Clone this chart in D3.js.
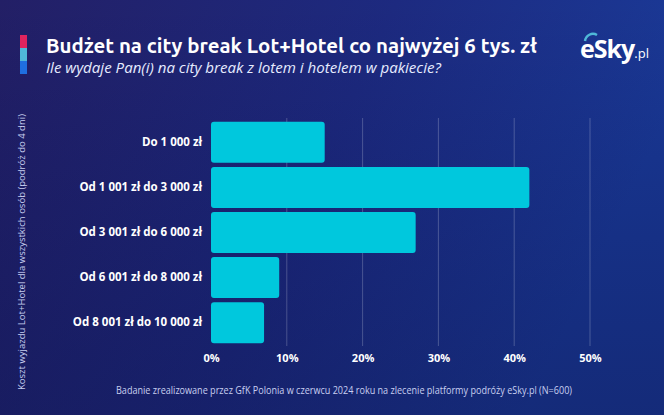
<!DOCTYPE html>
<html><head><meta charset="utf-8">
<script src="https://cdn.jsdelivr.net/npm/d3@7"></script>
<style>html,body{margin:0;padding:0;background:#1c2470;}svg{display:block;}</style>
</head><body>
<svg id="c" width="664" height="415"></svg>
<script>
const categories = ["Do 1 000 zł","Od 1 001 zł do 3 000 zł","Od 3 001 zł do 6 000 zł","Od 6 001 zł do 8 000 zł","Od 8 001 zł do 10 000 zł"];
const values = [15, 42, 27, 9, 7];
const tickValues = [0, 10, 20, 30, 40, 50];
const title = "Budżet na city break Lot+Hotel co najwyżej 6 tys. zł";
const subtitle = "Ile wydaje Pan(i) na city break z lotem i hotelem w pakiecie?";
const yTitle = "Koszt wyjazdu Lot+Hotel dla wszystkich osób (podróż do 4 dni)";
const footer = "Badanie zrealizowane przez GfK Polonia w czerwcu 2024 roku na zlecenie platformy podróży eSky.pl (N=600)";

const svg = d3.select("#c");
const W = 664, H = 415;
const defs = svg.append("defs");
const g1 = defs.append("linearGradient").attr("id","bg").attr("x1","0").attr("y1","0").attr("x2","1").attr("y2","0.3");
g1.append("stop").attr("offset","0").attr("stop-color","#231f66");
g1.append("stop").attr("offset","0.55").attr("stop-color","#1d2a80");
g1.append("stop").attr("offset","1").attr("stop-color","#1a3a98");
svg.append("rect").attr("width",W).attr("height",H).attr("fill","url(#bg)");
const g2 = defs.append("linearGradient").attr("id","bgv").attr("x1","0").attr("y1","0").attr("x2","0").attr("y2","1");
g2.append("stop").attr("offset","0").attr("stop-color","#000030").attr("stop-opacity",0);
g2.append("stop").attr("offset","1").attr("stop-color","#0a0e40").attr("stop-opacity",0.35);
svg.append("rect").attr("width",W).attr("height",H).attr("fill","url(#bgv)");

// accent bar
const acc = [["#e0245e",35],["#4fb8d8",48],["#1f6fe0",61]];
svg.selectAll("rect.acc").data(acc).enter().append("rect").attr("class","acc")
  .attr("x",20).attr("y",d=>d[1]).attr("width",7).attr("height",13).attr("fill",d=>d[0]);

svg.append("text").attr("x",46).attr("y",53).attr("fill","#ffffff")
  .attr("font-family","Ubuntu, 'Open Sans', sans-serif").attr("font-weight","bold").attr("font-size",19.5)
  .attr("textLength",491).attr("lengthAdjust","spacingAndGlyphs").text(title);
svg.append("text").attr("x",46).attr("y",73).attr("fill","#e6ecff")
  .attr("font-family","'Open Sans', sans-serif").attr("font-style","italic").attr("font-size",14)
  .attr("textLength",395).attr("lengthAdjust","spacingAndGlyphs").text(subtitle);

// logo
const logo = svg.append("text").attr("x",580).attr("y",58).attr("fill","#ffffff").attr("font-family","'Open Sans', sans-serif").attr("font-weight","bold");
logo.append("tspan").attr("font-size",25).attr("letter-spacing",-1).text("eSky");
logo.append("tspan").attr("font-size",13).attr("font-weight","normal").text(".pl");
svg.append("path").attr("d","M585,41 A8,8 0 0 1 597,35").attr("stroke","#4fb8d8").attr("stroke-width",2.5).attr("fill","none");

const x = d3.scaleLinear().domain([0,50]).range([211,590]);
const y = d3.scaleBand().domain(categories).range([120,345]).paddingInner(0.09).paddingOuter(0.04);

svg.append("g").selectAll("line").data(tickValues.slice(1)).enter().append("line")
  .attr("x1",d=>x(d)).attr("x2",d=>x(d)).attr("y1",118).attr("y2",346)
  .attr("stroke","#ffffff").attr("stroke-opacity",0.22).attr("stroke-width",1);

svg.append("g").selectAll("rect").data(values).enter().append("rect")
  .attr("x",x(0)).attr("y",(d,i)=>y(categories[i]))
  .attr("width",d=>x(d)-x(0)).attr("height",y.bandwidth())
  .attr("rx",3).attr("fill","#00c8dd");

const xAxis = svg.append("g").attr("transform","translate(0,346)")
  .call(d3.axisBottom(x).tickValues(tickValues).tickFormat(d=>d+"%").tickSize(0).tickPadding(8));
xAxis.select(".domain").remove();
xAxis.selectAll("text").attr("fill","#ffffff").attr("font-family","'Open Sans', sans-serif").attr("font-weight","bold").attr("font-size",11);

const yAxis = svg.append("g").attr("transform","translate(211,0)")
  .call(d3.axisLeft(y).tickSize(0).tickPadding(9));
yAxis.select(".domain").remove();
yAxis.selectAll("text").attr("fill","#ffffff").attr("font-family","'Open Sans', sans-serif").attr("font-weight","bold").attr("font-size",11.5);

svg.append("text").attr("transform","translate(25,252) rotate(-90)").attr("text-anchor","middle")
  .attr("fill","#c8cff0").attr("font-family","'Open Sans', sans-serif").attr("font-size",9.5)
  .attr("textLength",276).attr("lengthAdjust","spacingAndGlyphs").text(yTitle);

svg.append("text").attr("x",344).attr("y",394).attr("text-anchor","middle")
  .attr("fill","#c8cff0").attr("font-family","'Open Sans', sans-serif").attr("font-size",10)
  .attr("textLength",456).attr("lengthAdjust","spacingAndGlyphs").text(footer);
</script>
</body></html>
